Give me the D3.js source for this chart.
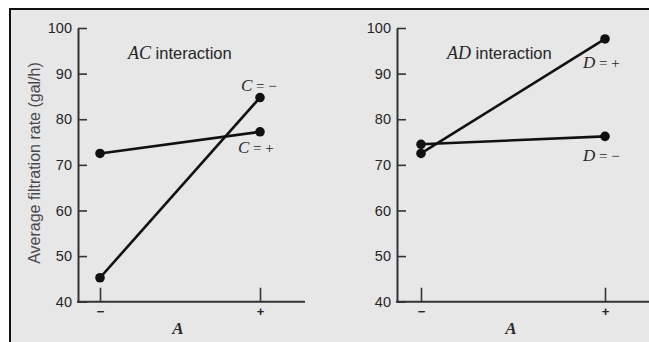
<!DOCTYPE html>
<html>
<head>
<meta charset="utf-8">
<script src="https://cdn.jsdelivr.net/npm/d3@7"></script>
<style>
  body { margin: 0; background: #fff; }
  svg { display: block; }
  .tick text { font-family: "Liberation Sans", Arial, sans-serif; fill: #262626; }
  .serif { font-family: "Liberation Serif", "Times New Roman", serif; }
</style>
</head>
<body>
<div id="chart"></div>
<script>
'use strict';

var levels = ["\u2212", "+"];          // factor A low / high
var yTicks = [40, 50, 60, 70, 80, 90, 100];

// AC interaction
var acCLow  = [45.25, 84.75];   // C = -
var acCHigh = [72.5, 77.25];    // C = +
// AD interaction
var adDLow  = [74.5, 76.25];    // D = -
var adDHigh = [72.5, 97.6];     // D = +

var width = 649, height = 342;

var svg = d3.select("#chart").append("svg")
  .attr("width", width)
  .attr("height", height);

// framed gray panel
svg.append("rect")
  .attr("x", 10).attr("y", 9)
  .attr("width", width + 20).attr("height", height + 20)
  .attr("fill", "#e7e7e7")
  .attr("stroke", "#111")
  .attr("stroke-width", 2);

var y = d3.scaleLinear().domain([40, 100]).range([301.7, 28]);

var panels = [
  { axisX: 78, xEnd: 305, range: [100, 260], letter: "C", title: "AC",
    titleX: 128, series: [
      { values: acCLow,  label: "\u2212", lx: 241, ly: 90.5 },
      { values: acCHigh, label: "+",      lx: 238, ly: 152.5 }
    ] },
  { axisX: 397, xEnd: 660, range: [421, 605], letter: "D", title: "AD",
    titleX: 447, series: [
      { values: adDHigh, label: "+",      lx: 583, ly: 68 },
      { values: adDLow,  label: "\u2212", lx: 583, ly: 160.5 }
    ] }
];

panels.forEach(function (p) {
  var x = d3.scalePoint().domain(levels).range(p.range);
  var g = svg.append("g");

  // y axis, ticks pointing inward
  var yAxis = g.append("g")
    .attr("transform", "translate(" + p.axisX + ",0)")
    .call(d3.axisLeft(y).tickValues(yTicks).tickSize(-9).tickSizeOuter(0).tickPadding(6));
  yAxis.select(".domain").attr("stroke", "#333").attr("stroke-width", 2);
  yAxis.selectAll(".tick line").attr("stroke", "#333").attr("stroke-width", 1.6);
  yAxis.selectAll(".tick text").attr("font-size", 14.5);

  // x axis
  var xAxis = g.append("g")
    .attr("transform", "translate(0," + y(40) + ")")
    .call(d3.axisBottom(x).tickSize(-14).tickPadding(5));
  xAxis.select(".domain").remove();
  xAxis.selectAll(".tick line").attr("stroke", "#333").attr("stroke-width", 1.6);
  xAxis.selectAll(".tick text").attr("font-size", 13).attr("font-weight", "bold");
  g.append("line")
    .attr("x1", p.axisX - 1).attr("x2", p.xEnd)
    .attr("y1", y(40)).attr("y2", y(40))
    .attr("stroke", "#333").attr("stroke-width", 2);

  // x axis title
  g.append("text")
    .attr("class", "serif")
    .attr("x", d3.mean(p.range) - 2).attr("y", 334)
    .attr("text-anchor", "middle")
    .attr("font-size", 17).attr("font-style", "italic").attr("font-weight", "bold")
    .attr("fill", "#2a2a2a")
    .text("A");

  // panel title
  var t = g.append("text").attr("x", p.titleX).attr("y", 59).attr("fill", "#262626");
  t.append("tspan").attr("class", "serif")
    .attr("font-size", 18).attr("font-style", "italic")
    .text(p.title);
  t.append("tspan")
    .attr("font-family", "Liberation Sans, Arial, sans-serif")
    .attr("font-size", 16.5)
    .text(" interaction");

  var line = d3.line()
    .x(function (d, i) { return x(levels[i]); })
    .y(function (d) { return y(d); });

  p.series.forEach(function (s) {
    g.append("path")
      .datum(s.values)
      .attr("d", line)
      .attr("fill", "none")
      .attr("stroke", "#111")
      .attr("stroke-width", 2.6);

    g.selectAll(null)
      .data(s.values)
      .enter().append("circle")
      .attr("cx", function (d, i) { return x(levels[i]); })
      .attr("cy", function (d) { return y(d); })
      .attr("r", 4.8)
      .attr("fill", "#111");

    var lt = g.append("text")
      .attr("class", "serif")
      .attr("x", s.lx).attr("y", s.ly)
      .attr("font-size", 17)
      .attr("fill", "#262626");
    lt.append("tspan").attr("font-style", "italic").text(p.letter);
    lt.append("tspan").attr("font-size", 15).text(" = " + s.label);
  });
});

// y axis title, left panel
svg.append("text")
  .attr("transform", "translate(40,163) rotate(-90)")
  .attr("text-anchor", "middle")
  .attr("font-family", "Liberation Sans, Arial, sans-serif")
  .attr("font-size", 16)
  .attr("fill", "#4a4a4a")
  .text("Average filtration rate (gal/h)");
</script>
</body>
</html>
